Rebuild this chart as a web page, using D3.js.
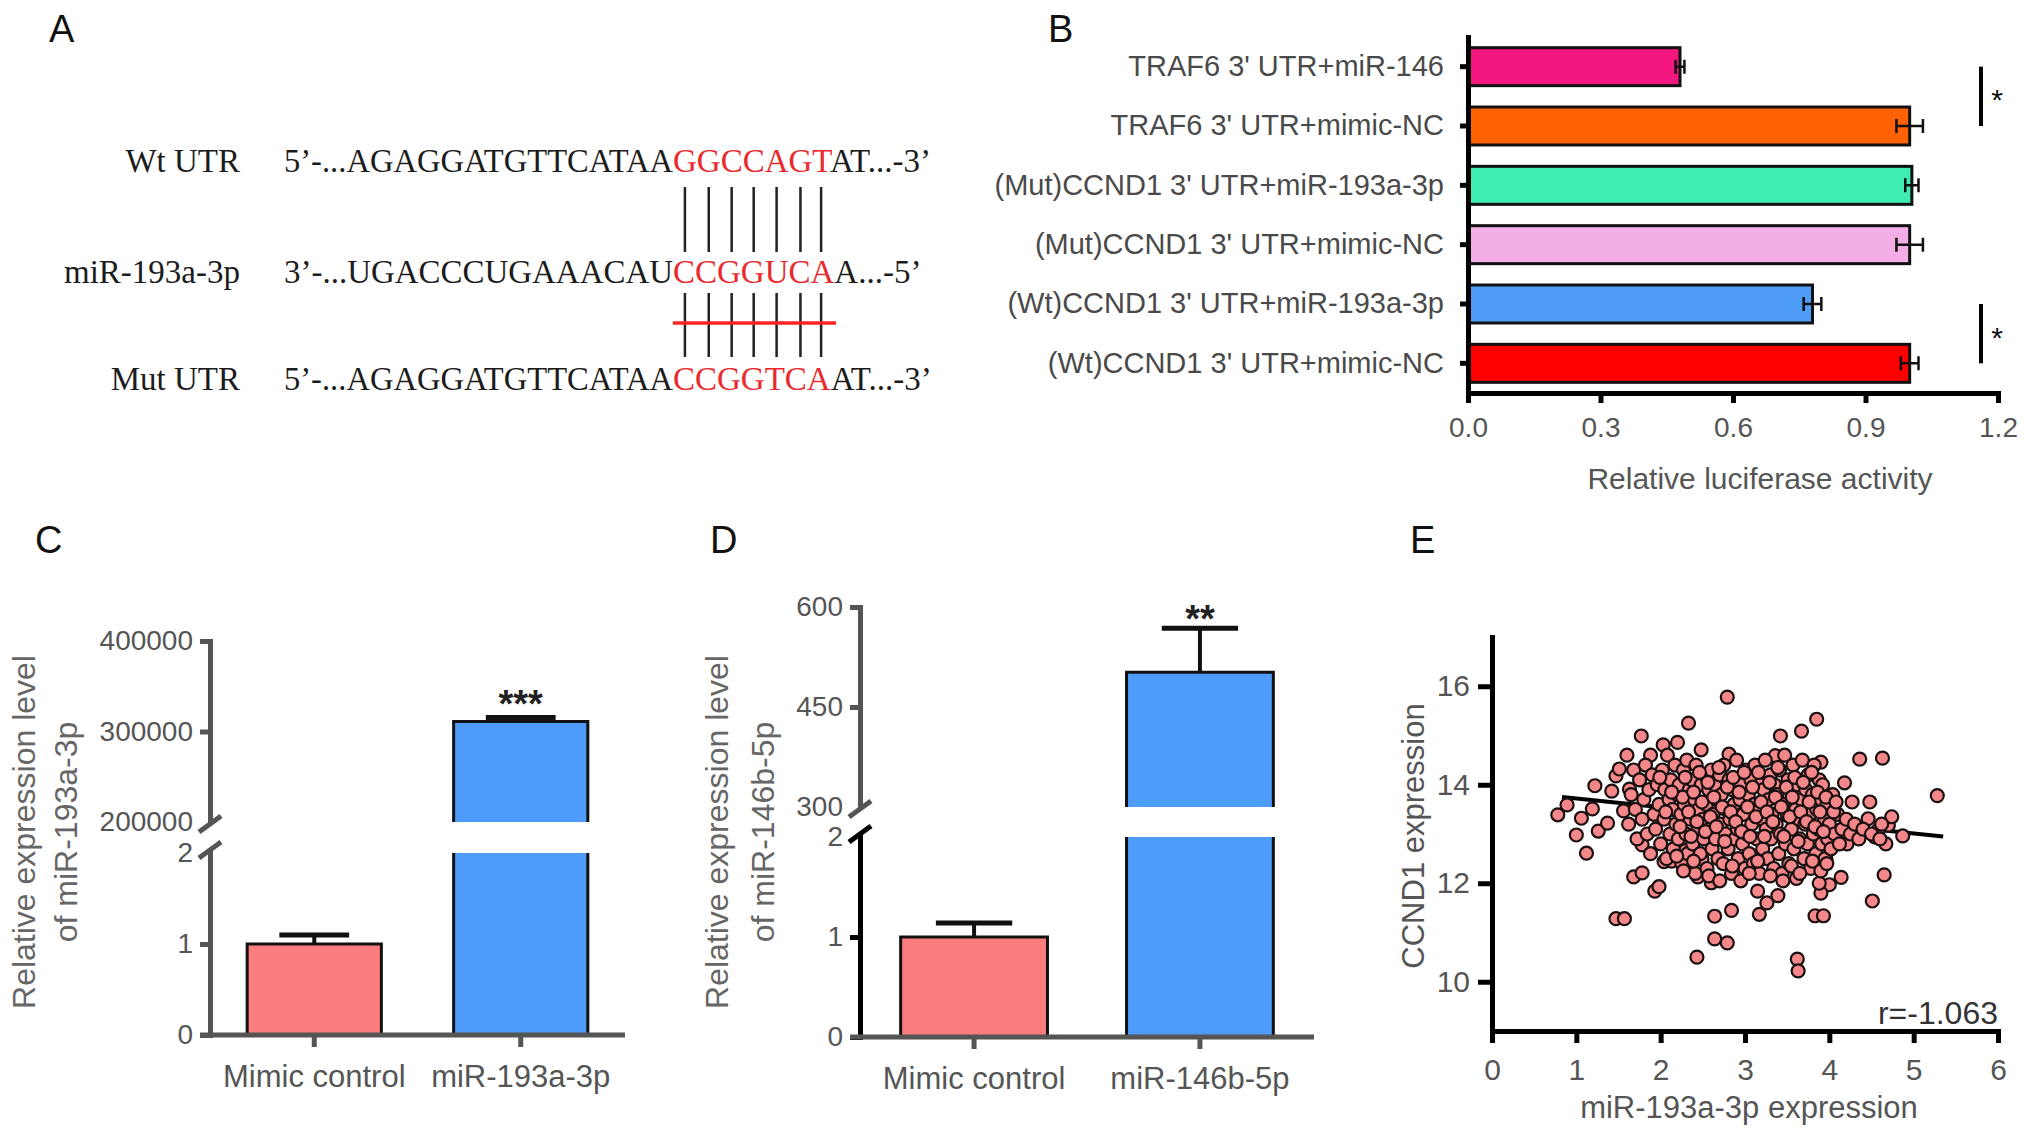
<!DOCTYPE html>
<html>
<head>
<meta charset="utf-8">
<script src="https://cdn.jsdelivr.net/npm/d3@7"></script>
<style>
	body { margin: 0; background: #fff; }
	svg { display: block; }
	text { font-family: "Liberation Sans", Arial, sans-serif; }
	.serif { font-family: "Liberation Serif", "Times New Roman", serif; }
	.panel { font-size: 38px; fill: #111; }
</style>
</head>
<body>
<svg id="fig" width="2031" height="1136"></svg>
<script>
// ---- panel A: sequences ----
const seqRows = ["Wt UTR", "miR-193a-3p", "Mut UTR"];
const seqPrefix = ["5\u2019-...AGAGGATGTTCATAA", "3\u2019-...UGACCCUGAAACAU", "5\u2019-...AGAGGATGTTCATAA"];
const seqSite = ["GGCCAGT", "CCGGUCA", "CCGGTCA"];
const seqSuffix = ["AT...-3\u2019", "A...-5\u2019", "AT...-3\u2019"];

// ---- panel B: luciferase ----
const lucLabels = ["TRAF6 3' UTR+miR-146", "TRAF6 3' UTR+mimic-NC", "(Mut)CCND1 3' UTR+miR-193a-3p",
	"(Mut)CCND1 3' UTR+mimic-NC", "(Wt)CCND1 3' UTR+miR-193a-3p", "(Wt)CCND1 3' UTR+mimic-NC"];
const lucValues = [0.48, 1.0, 1.005, 1.0, 0.78, 1.0];
const lucErrors = [0.01, 0.03, 0.015, 0.03, 0.02, 0.02];
const lucColors = ["#f3177f", "#ff6103", "#3fedb1", "#f4aee6", "#4e9cf7", "#ff0000"];
const lucTicks = [0, 0.3, 0.6, 0.9, 1.2];
const lucSig = [[0, 1], [4, 5]];

// ---- panel C ----
const cGroups = ["Mimic control", "miR-193a-3p"];
const cValues = [1, 311000];
const cErrors = [0.1, 4500];
const cUpperTicks = [200000, 300000, 400000];
const cLowerTicks = [0, 1, 2];

// ---- panel D ----
const dGroups = ["Mimic control", "miR-146b-5p"];
const dValues = [1, 502];
const dErrors = [0.14, 66];
const dUpperTicks = [300, 450, 600];
const dLowerTicks = [0, 1, 2];

// ---- panel E: scatter ----
const eXTicks = [0, 1, 2, 3, 4, 5, 6];
const eYTicks = [10, 12, 14, 16];
const eFitX = [0.83, 5.35];
const eFitY = [13.75, 12.95];
const ccndPoints = [
	[0.78,13.39],[0.89,13.59],[1.06,13.32],[1.0,12.98],[1.12,12.61],[1.19,13.51],[1.26,13.06],[1.22,13.98],
	[1.37,13.22],[1.42,13.87],[1.47,14.18],[1.51,14.32],[1.60,14.60],[1.63,13.91],[1.56,13.47],[1.47,11.28],
	[1.57,11.28],[1.68,12.13],[1.78,12.21],[1.78,12.78],[1.77,14.99],[1.88,14.60],[1.93,11.84],[1.98,11.93],
	[2.04,12.44],[2.13,12.45],[2.03,14.81],[2.20,14.86],[2.33,15.25],[2.29,12.66],[2.44,12.13],[2.43,10.50],
	[2.48,14.71],[2.49,12.49],[2.60,12.01],[2.64,11.33],[2.64,10.87],[2.79,10.79],[2.84,11.45],[2.79,15.78],
	[2.81,14.62],[3.15,11.84],[3.17,11.37],[3.26,11.60],[3.39,11.75],[3.19,12.49],[3.42,14.99],[3.36,14.59],
	[3.67,15.09],[3.85,15.33],[3.62,10.46],[3.63,10.22],[3.83,11.34],[3.93,11.34],[3.88,14.10],[3.90,14.46],
	[4.00,11.97],[3.90,11.80],[4.36,14.52],[4.63,14.54],[4.51,11.64],[4.65,12.17],[5.28,13.78],[4.87,12.96],
	[4.70,13.18],[4.67,12.80],[4.48,13.65],[4.46,13.31],[4.54,12.94],[4.18,14.04],[4.14,12.12],[4.27,13.65],
	[4.21,12.80],[4.08,12.90],[4.74,13.35],[4.58,13.08],[4.03,13.51],[3.96,12.49],
	[1.62,13.2],[1.65,13.8],[1.68,14.3],[1.7,13.5],[1.72,12.9],[1.75,14.1],[1.78,13.3],[1.8,13.7],[1.82,14.4],
	[1.84,13.0],[1.86,13.9],[1.88,12.6],[1.9,14.2],[1.92,13.4],[1.94,13.1],[1.96,14.0],[1.98,13.6],[2.0,12.8],
	[2.02,14.3],[2.04,13.3],[2.05,13.9],[2.07,12.5],[2.08,14.6],[2.1,13.7],[2.11,13.0],[2.12,14.1],[2.14,13.5],
	[2.15,12.7],[2.17,14.4],[2.18,13.2],[2.2,13.8],[2.21,12.9],[2.22,14.0],[2.24,13.4],[2.25,12.4],[2.27,14.3],
	[2.28,13.6],[2.3,13.0],[2.31,14.5],[2.32,12.6],[2.34,13.9],[2.35,13.3],[2.37,14.1],[2.38,12.8],[2.4,13.7],
	[2.41,12.2],[2.42,14.4],[2.44,13.1],[2.45,13.5],[2.47,12.6],[2.48,14.0],[2.5,13.3],[2.51,12.9],[2.52,14.2],
	[2.54,13.6],[2.55,12.3],[2.57,13.9],[2.58,13.1],[2.6,14.3],[2.61,12.7],[2.62,13.4],[2.64,14.0],[2.65,12.9],
	[2.67,13.7],[2.68,12.5],[2.7,14.2],[2.71,13.2],[2.72,13.8],[2.74,12.4],[2.75,14.4],[2.77,13.0],[2.78,13.5],
	[2.8,12.7],[2.81,14.1],[2.82,13.3],[2.84,12.2],[2.85,13.9],[2.87,13.6],[2.88,12.9],[2.9,14.5],[2.91,13.1],
	[2.92,12.5],[2.94,13.7],[2.95,14.0],[2.97,12.8],[2.98,13.4],[3.0,12.3],[3.01,14.3],[3.02,13.0],[3.04,13.8],
	[3.05,12.6],[3.07,14.1],[3.08,13.2],[3.1,12.4],[3.11,13.6],[3.12,14.4],[3.14,12.9],[3.15,13.5],[3.17,12.2],
	[3.18,14.0],[3.2,13.3],[3.21,12.7],[3.22,13.9],[3.24,14.5],[3.25,13.1],[3.27,12.5],[3.28,13.7],[3.3,14.2],
	[3.31,12.9],[3.32,13.4],[3.34,12.3],[3.35,14.0],[3.37,13.2],[3.38,13.8],[3.4,12.6],[3.41,14.3],[3.42,13.0],
	[3.44,12.2],[3.45,13.6],[3.47,14.6],[3.48,12.8],[3.5,13.4],[3.51,14.1],[3.52,12.4],[3.54,13.9],[3.55,13.1],
	[3.57,14.4],[3.58,12.7],[3.6,13.5],[3.61,12.1],[3.62,14.0],[3.64,13.3],[3.65,12.9],[3.67,13.7],[3.68,14.5],
	[3.7,12.5],[3.71,13.2],[3.72,13.9],[3.74,12.8],[3.75,14.2],[3.77,13.4],[3.78,12.3],[3.8,13.8],[3.81,13.0],
	[3.82,14.4],[3.84,12.6],[3.85,13.5],[3.87,13.1],[3.88,12.0],[3.9,13.7],[3.91,12.8],[3.92,14.0],[3.94,13.3],
	[3.95,12.5],[3.97,13.6],[3.98,12.9],[4.0,13.2],[4.02,12.7],[4.04,13.8],[4.06,13.0],[4.1,13.4],[4.12,12.8],
	[4.15,13.1],[4.2,13.3],[4.25,13.0],[4.3,13.2],[4.35,12.9],[4.4,13.1],[4.5,13.0],[4.6,12.9],[4.62,13.2],
	[2.23,13.15],[2.26,13.75],[2.29,14.15],[2.33,13.45],[2.36,12.95],[2.39,13.85],[2.43,13.25],[2.46,14.25],
	[2.49,13.65],[2.53,13.05],[2.56,14.05],[2.59,13.35],[2.63,13.75],[2.66,13.15],[2.69,14.35],[2.73,13.55],
	[2.76,12.85],[2.79,13.95],[2.83,13.45],[2.86,14.15],[2.89,13.25],[2.93,13.85],[2.96,13.05],[2.99,14.25],
	[3.03,13.55],[3.06,12.95],[3.09,13.95],[3.13,13.35],[3.16,14.25],[3.19,13.65],[3.23,12.95],[3.26,13.45],
	[3.29,14.05],[3.33,13.25],[3.36,13.75],[3.39,14.35],[3.43,13.55],[3.46,12.95],[3.49,13.95],[3.53,13.35],
	[3.56,13.75],[3.59,14.15],[3.63,12.85],[3.66,13.45],[3.69,14.05],[3.73,13.25],[3.76,13.65],[3.79,14.25],
	[3.83,13.15],[3.86,13.85],[3.89,13.45],[3.93,13.05],[3.96,13.75],[4.05,13.45],[4.08,13.65],[2.13,13.85],
	[2.06,13.45],[1.99,14.15],[2.19,12.55],[2.27,12.25],[2.39,12.45],[2.57,12.15],[2.7,12.05],[2.85,12.35],
	[2.95,12.05],[3.05,12.2],[3.15,12.45],[3.3,12.15],[3.45,12.05],[3.55,12.35],[3.65,12.2],[3.8,12.45],
	[3.9,12.25],[3.97,12.4]
];

const svg = d3.select("#fig");
svg.append("rect").attr("width", 2031).attr("height", 1136).attr("fill", "#fff");

// panel letters
[["A", 49, 42], ["B", 1048, 42], ["C", 35, 553], ["D", 710, 553], ["E", 1410, 553]].forEach(([t, x, y]) => {
	svg.append("text").attr("class", "panel").attr("x", x).attr("y", y).text(t);
});

// ================= A =================
(function() {
	const g = svg.append("g");
	const rowY = [172, 283, 390];
	const siteX = 673;
	let siteText = null;
	seqRows.forEach((name, i) => {
		g.append("text").attr("class", "serif").attr("x", 240).attr("y", rowY[i])
			.attr("text-anchor", "end").attr("font-size", 33).attr("fill", "#1c1c1c").text(name);
		g.append("text").attr("class", "serif").attr("x", siteX).attr("y", rowY[i])
			.attr("text-anchor", "end").attr("font-size", 33).attr("fill", "#1c1c1c")
			.attr("textLength", 389).attr("lengthAdjust", "spacingAndGlyphs")
			.text(seqPrefix[i]);
		const t = g.append("text").attr("class", "serif").attr("x", siteX).attr("y", rowY[i]).attr("font-size", 33);
		t.append("tspan").attr("fill", "#ea2a2f").text(seqSite[i]);
		t.append("tspan").attr("fill", "#1c1c1c").text(seqSuffix[i]);
		if (i === 0) siteText = t.node();
	});
	// base-pair lines at the centre of each site letter
	const centers = d3.range(seqSite[0].length).map(k => {
		const a = siteText.getStartPositionOfChar(k).x, b = siteText.getEndPositionOfChar(k).x;
		return (a + b) / 2;
	});
	[[187, 252], [293, 357]].forEach(([y0, y1]) => {
		g.selectAll(null).data(centers).join("line")
			.attr("x1", d => d).attr("x2", d => d).attr("y1", y0).attr("y2", y1)
			.attr("stroke", "#222").attr("stroke-width", 2.5);
	});
	g.append("line").attr("x1", centers[0] - 12).attr("x2", centers[centers.length - 1] + 15)
		.attr("y1", 323).attr("y2", 323).attr("stroke", "#ff2424").attr("stroke-width", 3.5);
})();

// ================= B =================
(function() {
	const g = svg.append("g");
	const x = d3.scaleLinear().domain([0, 1.2]).range([1468, 1998]);
	const y = d3.scaleBand().domain(lucLabels).range([37, 393]).paddingInner(0.36).paddingOuter(0.18);
	const bw = y.bandwidth();

	g.selectAll("rect.bar").data(lucLabels).join("rect").attr("class", "bar")
		.attr("x", x(0)).attr("y", d => y(d))
		.attr("width", (d, i) => x(lucValues[i]) - x(0)).attr("height", bw)
		.attr("fill", (d, i) => lucColors[i]).attr("stroke", "#111").attr("stroke-width", 3);

	lucLabels.forEach((d, i) => {
		const cy = y(d) + bw / 2, lo = x(lucValues[i] - lucErrors[i]), hi = x(lucValues[i] + lucErrors[i]);
		g.append("path").attr("d", `M${lo},${cy}H${hi}M${lo},${cy - 7}V${cy + 7}M${hi},${cy - 7}V${cy + 7}`)
			.attr("stroke", "#111").attr("stroke-width", 2.5).attr("fill", "none");
	});

	const xAxis = g.append("g").attr("transform", "translate(0,393)")
		.call(d3.axisBottom(x).tickValues(lucTicks).tickFormat(d3.format(".1f")).tickSize(10).tickSizeOuter(0).tickPadding(14));
	const yAxis = g.append("g").attr("transform", "translate(1468,0)")
		.call(d3.axisLeft(y).tickSize(8).tickSizeOuter(0).tickPadding(16));
	[xAxis, yAxis].forEach(a => {
		a.select(".domain").attr("stroke", "#000").attr("stroke-width", 5).attr("stroke-linecap", "square");
		a.selectAll(".tick line").attr("stroke", "#000").attr("stroke-width", 5);
	});
	xAxis.selectAll(".tick text").attr("font-size", 28).attr("fill", "#555");
	yAxis.selectAll(".tick text").attr("font-size", 29).attr("fill", "#4a4a4a");

	g.append("text").attr("x", 1760).attr("y", 489).attr("text-anchor", "middle")
		.attr("font-size", 30).attr("fill", "#555").text("Relative luciferase activity");

	lucSig.forEach(([a, b]) => {
		const y0 = y(lucLabels[a]) + bw / 2, y1 = y(lucLabels[b]) + bw / 2;
		g.append("line").attr("x1", 1981).attr("x2", 1981).attr("y1", y0).attr("y2", y1)
			.attr("stroke", "#000").attr("stroke-width", 4);
		g.append("text").attr("x", 1997).attr("y", (y0 + y1) / 2 + 14).attr("text-anchor", "middle")
			.attr("font-size", 30).attr("fill", "#111").text("*");
	});
})();

// ================= C & D (broken y axis) =================
function brokenBars(o) {
	const g = svg.append("g");
	const x = d3.scaleBand().domain(o.groups).range(o.xRange).paddingInner(0.35).paddingOuter(0.18);
	const yL = d3.scaleLinear().domain([o.lowerTicks[0], o.lowerTicks[o.lowerTicks.length - 1]]).range(o.lowerRange);
	const yU = d3.scaleLinear().domain([o.upperTicks[0], o.upperTicks[o.upperTicks.length - 1]]).range(o.upperRange);
	const lowMax = yL.domain()[1], upMin = yU.domain()[0];
	const colors = ["#fc7d7d", "#4d9bfa"];
	const yv = v => v <= lowMax ? yL(v) : yU(v);

	o.groups.forEach((grp, i) => {
		const x0 = x(grp), x1 = x0 + x.bandwidth(), v = o.values[i];
		if (v <= lowMax) {
			g.append("rect").attr("x", x0).attr("y", yL(v)).attr("width", x.bandwidth()).attr("height", yL(0) - yL(v))
				.attr("fill", colors[i]).attr("stroke", "#111").attr("stroke-width", 3);
		} else {
			g.append("rect").attr("x", x0).attr("y", yL(lowMax)).attr("width", x.bandwidth()).attr("height", yL(0) - yL(lowMax))
				.attr("fill", colors[i]);
			g.append("path").attr("d", `M${x0},${yL(lowMax)}V${yL(0)}H${x1}V${yL(lowMax)}`)
				.attr("fill", "none").attr("stroke", "#111").attr("stroke-width", 3);
			g.append("rect").attr("x", x0).attr("y", yU(v)).attr("width", x.bandwidth()).attr("height", yU(upMin) - yU(v))
				.attr("fill", colors[i]);
			g.append("path").attr("d", `M${x0},${yU(upMin)}V${yU(v)}H${x1}V${yU(upMin)}`)
				.attr("fill", "none").attr("stroke", "#111").attr("stroke-width", 3);
		}
		const cx = x0 + x.bandwidth() / 2, top = yv(v), et = yv(v + o.errors[i]), cw = x.bandwidth() * 0.26;
		g.append("line").attr("x1", cx).attr("x2", cx).attr("y1", top).attr("y2", et).attr("stroke", "#111").attr("stroke-width", 4);
		g.append("line").attr("x1", cx - cw).attr("x2", cx + cw).attr("y1", et).attr("y2", et).attr("stroke", "#111").attr("stroke-width", 5);
		if (o.stars[i]) {
			g.append("text").attr("x", cx).attr("y", et + 2 + o.starShift).attr("text-anchor", "middle")
				.attr("font-size", 38).attr("font-weight", "bold").attr("fill", "#222").text(o.stars[i]);
		}
	});

	const styleAxis = (a, col) => {
		a.select(".domain").attr("stroke", col).attr("stroke-width", 5).attr("stroke-linecap", "square");
		a.selectAll(".tick line").attr("stroke", col).attr("stroke-width", 5);
		a.selectAll(".tick text").attr("font-size", 28).attr("fill", "#555");
	};
	const ax = o.xRange[0];
	const lowA = g.append("g").attr("transform", `translate(${ax},0)`)
		.call(d3.axisLeft(yL).tickValues(o.lowerTicks).tickFormat(d3.format("d")).tickSize(10).tickSizeOuter(0).tickPadding(7));
	styleAxis(lowA, o.lowerColor);
	lowA.selectAll(".tick line").filter(d => d === lowMax).remove();
	const upA = g.append("g").attr("transform", `translate(${ax},0)`)
		.call(d3.axisLeft(yU).tickValues(o.upperTicks).tickFormat(d3.format("d")).tickSize(10).tickSizeOuter(0).tickPadding(7));
	styleAxis(upA, o.upperColor);
	upA.selectAll(".tick line").filter(d => d === upMin).remove();
	// break slashes
	[[yU(upMin) + 2, o.upperColor], [yL(lowMax) - 3, o.lowerColor]].forEach(([cy, col]) => {
		g.append("line").attr("x1", ax - 11).attr("x2", ax + 11).attr("y1", cy + 8).attr("y2", cy - 8)
			.attr("stroke", col).attr("stroke-width", 5);
	});

	const xA = g.append("g").attr("transform", `translate(0,${yL(0)})`)
		.call(d3.axisBottom(x).tickSize(12).tickSizeOuter(0).tickPadding(18));
	xA.select(".domain").attr("stroke", "#555").attr("stroke-width", 5).attr("d", `M${ax - 10},0H${o.xRange[1]}`);
	xA.selectAll(".tick line").attr("stroke", "#555").attr("stroke-width", 5);
	xA.selectAll(".tick text").attr("font-size", 31).attr("fill", "#555");

	o.ylabel.forEach((t, k) => {
		g.append("text").attr("transform", `translate(${o.ylabelX[k]},832) rotate(-90)`)
			.attr("text-anchor", "middle").attr("dominant-baseline", "central")
			.attr("font-size", 32).attr("fill", "#666").text(t);
	});
}

brokenBars({
	groups: cGroups, values: cValues, errors: cErrors,
	upperTicks: cUpperTicks, lowerTicks: cLowerTicks,
	xRange: [210, 625], lowerRange: [1035, 853], upperRange: [822, 641],
	upperColor: "#555", lowerColor: "#555",
	stars: ["", "***"], starShift: -2,
	ylabel: ["Relative expression level", "of miR-193a-3p"], ylabelX: [24, 66]
});
brokenBars({
	groups: dGroups, values: dValues, errors: dErrors,
	upperTicks: dUpperTicks, lowerTicks: dLowerTicks,
	xRange: [860, 1314], lowerRange: [1037, 837], upperRange: [807, 607],
	upperColor: "#555", lowerColor: "#000",
	stars: ["", "**"], starShift: 2,
	ylabel: ["Relative expression level", "of miR-146b-5p"], ylabelX: [717, 763]
});

// ================= E =================
(function() {
	const g = svg.append("g");
	const x = d3.scaleLinear().domain([0, 6]).range([1492, 1998]);
	const y = d3.scaleLinear().domain([9, 17]).range([1031, 637]);

	g.append("line").attr("x1", x(eFitX[0])).attr("x2", x(eFitX[1]))
		.attr("y1", y(eFitY[0])).attr("y2", y(eFitY[1])).attr("stroke", "#000").attr("stroke-width", 4);

	g.selectAll("circle").data(ccndPoints).join("circle")
		.attr("cx", d => x(d[0])).attr("cy", d => y(d[1])).attr("r", 6.5)
		.attr("fill", "#f4878a").attr("stroke", "#1a1010").attr("stroke-width", 2.2);

	const xA = g.append("g").attr("transform", `translate(0,${y(9)})`)
		.call(d3.axisBottom(x).tickValues(eXTicks).tickFormat(d3.format("d")).tickSize(12).tickSizeOuter(0).tickPadding(16));
	const yA = g.append("g").attr("transform", `translate(${x(0)},0)`)
		.call(d3.axisLeft(y).tickValues(eYTicks).tickSize(14).tickSizeOuter(0).tickPadding(8));
	[xA, yA].forEach(a => {
		a.select(".domain").attr("stroke", "#000").attr("stroke-width", 5).attr("stroke-linecap", "square");
		a.selectAll(".tick line").attr("stroke", "#000").attr("stroke-width", 5);
		a.selectAll(".tick text").attr("font-size", 30).attr("fill", "#555");
	});

	g.append("text").attr("x", 1998).attr("y", 1024).attr("text-anchor", "end")
		.attr("font-size", 32).attr("fill", "#333").text("r=-1.063");
	g.append("text").attr("x", 1749).attr("y", 1118).attr("text-anchor", "middle")
		.attr("font-size", 31).attr("fill", "#555").text("miR-193a-3p expression");
	g.append("text").attr("transform", "translate(1413,836) rotate(-90)")
		.attr("text-anchor", "middle").attr("dominant-baseline", "central")
		.attr("font-size", 31).attr("fill", "#555").text("CCND1 expression");
})();
</script>
</body>
</html>
